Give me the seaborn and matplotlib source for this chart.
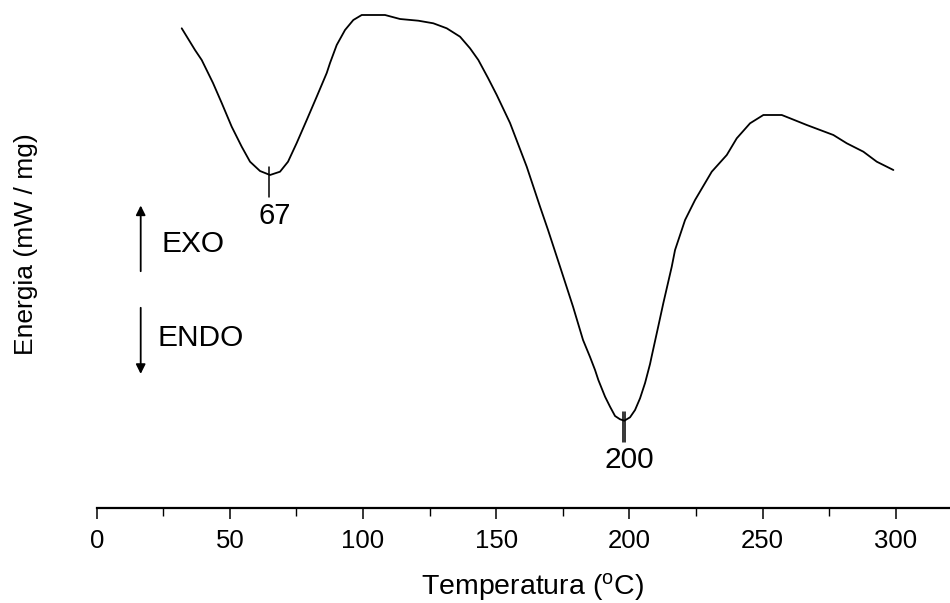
import matplotlib
matplotlib.use("Agg")
import matplotlib.pyplot as plt
import seaborn as sns
import pandas as pd
from matplotlib.ticker import MultipleLocator

# ---- data ----
temperature = [31.92, 36.91, 39.43, 43.67, 46.94, 50.69, 54.45, 57.57, 61.32, 65.08,
               68.83, 71.84, 75.10, 78.86, 82.61, 86.37, 87.61, 90.12, 93.24, 96.36,
               99.51, 108.26, 113.89, 120.77, 126.40, 131.43, 136.43, 140.18, 143.30, 146.94,
               150.21, 155.20, 161.47, 166.47, 169.47, 173.98, 178.86, 182.61, 185.24, 187.12,
               188.36, 190.88, 192.75, 194.63, 196.51, 198.12, 200.26, 202.14, 204.02, 205.90,
               207.77, 208.41, 209.65, 210.89, 212.77, 215.92, 217.16, 220.92, 224.67, 230.94,
               236.58, 240.33, 245.32, 250.32, 257.23, 260.35, 266.62, 276.61, 281.64, 287.87,
               292.90, 299.14]
energy = [-0.133, -0.35, -0.45, -0.68, -0.88, -1.117, -1.317, -1.467, -1.56, -1.60,
          -1.567, -1.467, -1.28, -1.05, -0.817, -0.58, -0.48, -0.30, -0.15, -0.05,
          0.0, 0.0, -0.04, -0.057, -0.083, -0.133, -0.217, -0.333, -0.45, -0.63,
          -0.80, -1.08, -1.517, -1.917, -2.15, -2.517, -2.917, -3.25, -3.42, -3.55,
          -3.65, -3.817, -3.917, -4.01, -4.043, -4.057, -4.023, -3.95, -3.833, -3.68,
          -3.49, -3.41, -3.26, -3.11, -2.88, -2.517, -2.35, -2.05, -1.85, -1.567,
          -1.40, -1.233, -1.083, -1.00, -1.00, -1.033, -1.10, -1.20, -1.283, -1.367,
          -1.467, -1.55]
peak_labels = ["67", "200"]
peak_label_x = [67, 200]
peak_mark_x = [64.8, 198.0]
peak_mark_top = [-1.517, -3.967]
peak_mark_bottom = [-1.823, -4.267]
peak_label_y = [-2.01, -4.45]
major_ticks = [0, 50, 100, 150, 200, 250, 300]

sns.set_style("white")
plt.rcParams["font.family"] = ["Liberation Sans", "DejaVu Sans"]
plt.rcParams["mathtext.fontset"] = "custom"
plt.rcParams["mathtext.rm"] = "Liberation Sans"
plt.rcParams["mathtext.it"] = "Liberation Sans"
plt.rcParams["text.color"] = "black"
plt.rcParams["axes.labelcolor"] = "black"
plt.rcParams["xtick.color"] = "black"

df = pd.DataFrame({"Temperatura": temperature, "Energia": energy})

fig = plt.figure(figsize=(9.5, 6.03), dpi=100)
W, H = 950, 603
ax = fig.add_axes([96.7 / W, 95 / H, 1 - 96.7 / W, 508 / H])

sns.lineplot(data=df, x="Temperatura", y="Energia", color="black", lw=1.3,
             estimator=None, ax=ax)

ax.set_xlim(0, 320.4)
ax.set_ylim(-4.93, 0.15)

for s in ["left", "top", "right"]:
    ax.spines[s].set_visible(False)
ax.spines["bottom"].set_linewidth(1.6)
ax.spines["bottom"].set_color("black")
ax.set_yticks([])
ax.xaxis.set_major_locator(MultipleLocator(50))
ax.xaxis.set_minor_locator(MultipleLocator(25))
ax.set_xticks(major_ticks)
ax.tick_params(axis="x", which="major", direction="out", length=8, width=1.1,
               color="black", labelcolor="black", labelsize=18.5, pad=7, bottom=True)
ax.tick_params(axis="x", which="minor", direction="out", length=5.8, width=1.0,
               color="black", bottom=True)

# peak markers and labels
for xm, yt, yb, lab, xl, yl in zip(peak_mark_x, peak_mark_top, peak_mark_bottom,
                                   peak_labels, peak_label_x, peak_label_y):
    if lab == "200":
        ax.plot([xm - 0.4, xm - 0.4], [yt, yb], color="black", lw=1.1)
        ax.plot([xm + 0.4, xm + 0.4], [yt, yb], color="black", lw=1.1)
        ax.text(xl, yl, lab, ha="center", va="center", fontsize=21.5, color="black")
    else:
        ax.plot([xm, xm], [yt, yb], color="black", lw=1.1)
        ax.text(xl, yl, lab, ha="center", va="center", fontsize=21, color="black")

# axis labels
ax.set_xlabel(r"Temperatura ($^{\rm o}$C)", fontsize=20.5, color="black")
ax.xaxis.set_label_coords((532 - 96.7) / 853.3, (508 - 587) / 508)
ax.xaxis.label.set_va("center")
ax.set_ylabel("Energia (mW / mg)", fontsize=19, color="black")
ax.yaxis.set_label_coords((26 - 96.7) / 853.3, (508 - 244) / 508)
ax.yaxis.label.set_va("center")

# EXO / ENDO arrows
ax.annotate("", xy=(140.7, H - 202.7), xytext=(140.7, H - 274),
            xycoords="figure pixels", textcoords="figure pixels",
            arrowprops=dict(arrowstyle="-|>", lw=1.3, color="black", mutation_scale=14))
ax.annotate("", xy=(140.7, H - 376.7), xytext=(140.7, H - 305),
            xycoords="figure pixels", textcoords="figure pixels",
            arrowprops=dict(arrowstyle="-|>", lw=1.3, color="black", mutation_scale=14))
fig.text(162 / W, 1 - 244 / H, "EXO", ha="left", va="center", fontsize=21.5, color="black")
fig.text(157 / W, 1 - 338 / H, "ENDO", ha="left", va="center", fontsize=21.5, color="black")

fig.savefig("out.png", dpi=100)
